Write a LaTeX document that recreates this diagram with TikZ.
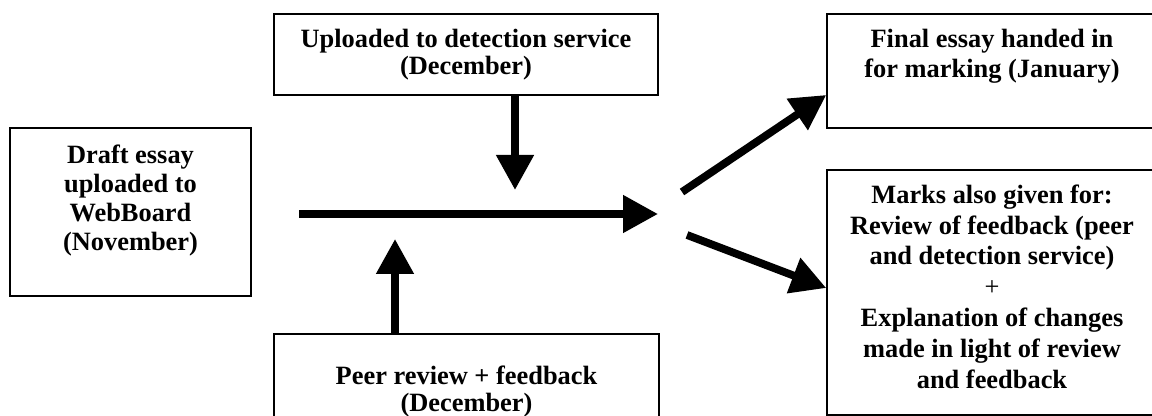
\documentclass[tikz,border=0pt]{standalone}
\usepackage{fontspec}
\setmainfont{Liberation Serif}
\usetikzlibrary{arrows.meta,positioning}
\tikzset{
  stage/.style={rectangle,draw,line width=.75pt},
  stagetext/.style={align=center,inner sep=0pt,font=\bfseries\fontsize{13.2}{14.6}\selectfont},
  tighttext/.style={stagetext,font=\bfseries\fontsize{13.2}{13.5}\selectfont},
  widetext/.style={stagetext,font=\bfseries\fontsize{13.2}{15.4}\selectfont},
  flow/.style={line width=3.9pt,-{Triangle[length=17.5pt,width=18pt]}},
}
\begin{document}
\begin{tikzpicture}[x=.5pt,y=-.5pt]
\clip (0,0) rectangle (1152,416);
% boxes
\draw (130.5,212) node[stage,minimum width=120.5pt,minimum height=84pt] (draft) {};
\draw (466,54.5) node[stage,minimum width=192pt,minimum height=40.5pt] (detect) {};
\draw (466.5,387) node[stage,minimum width=192.5pt,minimum height=53pt] (peer) {};
\draw (992,71) node[stage,minimum width=165pt,minimum height=57pt] (final) {};
\draw (992,292.5) node[stage,minimum width=165pt,minimum height=122.5pt] (marks) {};
% texts
\node[stagetext,below=8.5pt of draft.north] (drafttxt) {Draft essay\\uploaded to\\WebBoard\\(November)};
\node[tighttext,below=8pt of detect.north] (detecttxt) {Uploaded to detection service\\(December)};
\node[tighttext,below=16pt of peer.north] (peertxt) {Peer review + feedback\\(December)};
\node[stagetext,below=8pt of final.north] (finaltxt) {Final essay handed in\\for marking (January)};
\node[widetext,below=7.5pt of marks.north] (markstxt) {Marks also given for:\\Review of feedback (peer\\and detection service)\\{\mdseries +}\\Explanation of changes\\made in light of review\\and feedback};
% arrows
\coordinate (flowstart) at (299,214);
\coordinate (flowend) at (658,214);
\coordinate (detectend) at (515,190);
\coordinate (peerend) at (395,239);
\coordinate (splitup) at (682,192);
\coordinate (splitdown) at (687,235);
\draw[flow] (flowstart) -- (flowend);
\draw[flow] (detect.south -| detectend) -- (detectend);
\draw[flow] (peer.north -| peerend) -- (peerend);
\draw[flow] (splitup) -- ([yshift=-12pt]final.west);
\draw[flow] (splitdown) -- ([yshift=2.25pt]marks.west);
\end{tikzpicture}
\end{document}
